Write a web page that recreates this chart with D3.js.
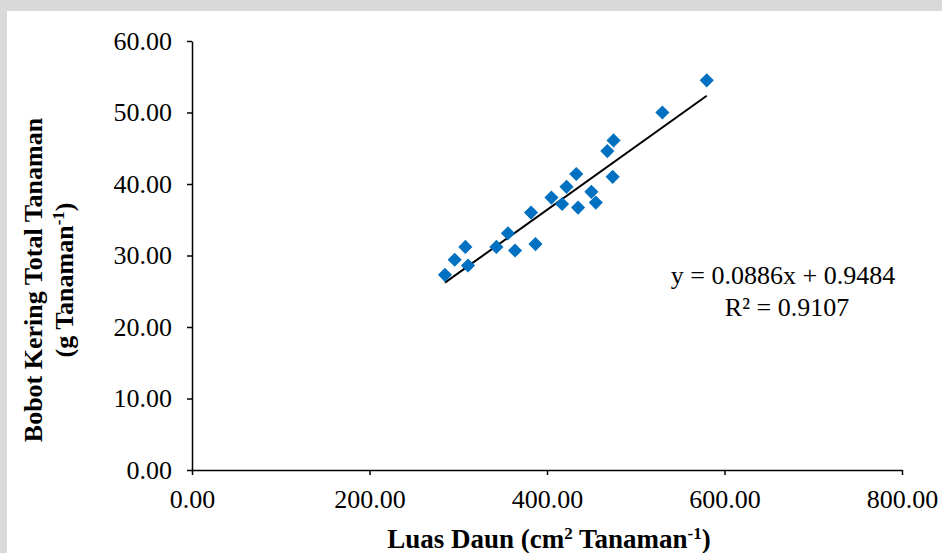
<!DOCTYPE html>
<html>
<head>
<meta charset="utf-8">
<script src="https://cdn.jsdelivr.net/npm/d3@7"></script>
<style>
  body { margin: 0; background: #d9d9d9; }
  svg { display: block; }
  text { font-family: "Liberation Serif", "Times New Roman", serif; }
</style>
</head>
<body>
<div id="chart"></div>
<script>
// leaf area (x) vs total dry weight (y)
var luasDaun = [285, 296, 308, 311, 343, 356, 364, 382, 387, 405, 417, 422,
                433, 435, 450, 455, 468, 475, 474, 530, 580];
var bobotKering = [27.3, 29.4, 31.2, 28.6, 31.2, 33.1, 30.7, 36.0, 31.6, 38.1, 37.2, 39.6,
                   41.4, 36.7, 38.9, 37.4, 44.6, 46.1, 41.0, 50.0, 54.5];
var xTicks = [0, 200, 400, 600, 800];
var yTicks = [0, 10, 20, 30, 40, 50, 60];
var slope = 0.0886, intercept = 0.9484;

var width = 942, height = 553;

var svg = d3.select("#chart").append("svg")
    .attr("width", width)
    .attr("height", height);

// white plot sheet (gray strip at top/left like the scan)
svg.append("rect")
    .attr("x", 7).attr("y", 11)
    .attr("width", width - 7).attr("height", height - 11)
    .attr("fill", "#fff");

var x = d3.scaleLinear().domain([0, 800]).range([192, 902]);
var y = d3.scaleLinear().domain([0, 60]).range([470, 41]);

var xAxis = svg.append("g")
    .attr("transform", "translate(0," + y(0) + ")")
    .call(d3.axisBottom(x).tickValues(xTicks).tickSize(5).tickSizeOuter(0)
      .tickFormat(d3.format(".2f")));

var yAxis = svg.append("g")
    .attr("transform", "translate(" + x(0) + ",0)")
    .call(d3.axisLeft(y).tickValues(yTicks).tickSize(5).tickSizeOuter(0)
      .tickFormat(d3.format(".2f")));

[xAxis, yAxis].forEach(function(g) {
  g.select(".domain").attr("stroke", "#000").attr("stroke-width", 1.5);
  g.selectAll(".tick line").attr("stroke", "#000").attr("stroke-width", 1.5);
  g.selectAll(".tick text")
      .attr("fill", "#000")
      .style("font-size", "26px")
      .style("font-family", "Liberation Serif");
});
xAxis.selectAll(".tick text").attr("y", 20).attr("dy", "0.71em");
yAxis.selectAll(".tick text").attr("x", -20);

// trendline over the data range
var xr = d3.extent(luasDaun);
svg.append("line")
    .attr("x1", x(xr[0])).attr("y1", y(slope * xr[0] + intercept))
    .attr("x2", x(xr[1])).attr("y2", y(slope * xr[1] + intercept))
    .attr("stroke", "#000")
    .attr("stroke-width", 2);

var diamond = d3.symbol().type(d3.symbolSquare).size(100);
svg.selectAll(".pt")
    .data(luasDaun)
    .enter().append("path")
    .attr("class", "pt")
    .attr("d", diamond)
    .attr("transform", function(d, i) {
      return "translate(" + x(d) + "," + y(bobotKering[i]) + ") rotate(45)";
    })
    .attr("fill", "#0070c0");

// regression text
var eq = svg.append("g").style("font-size", "26px").attr("text-anchor", "middle");
eq.append("text").attr("x", 783).attr("y", 284).text("y = 0.0886x + 0.9484");
eq.append("text").attr("x", 787).attr("y", 316).text("R\u00b2 = 0.9107");

// x axis title
var xt = svg.append("text")
    .attr("x", 549).attr("y", 548)
    .attr("text-anchor", "middle")
    .style("font-size", "27px").style("font-weight", "bold");
xt.append("tspan").text("Luas Daun (cm");
xt.append("tspan").attr("dy", -9).style("font-size", "17px").text("2");
xt.append("tspan").attr("dy", 9).text(" Tanaman");
xt.append("tspan").attr("dy", -9).style("font-size", "17px").text("-1");
xt.append("tspan").attr("dy", 9).text(")");

// y axis title, two lines
var yt = svg.append("g")
    .attr("transform", "translate(42,280) rotate(-90)")
    .attr("text-anchor", "middle")
    .style("font-size", "26px").style("font-weight", "bold");
yt.append("text").attr("x", 0).attr("y", 0).text("Bobot Kering Total Tanaman");
var yt2 = yt.append("text").attr("x", 0).attr("y", 31);
yt2.append("tspan").text("(g Tanaman");
yt2.append("tspan").attr("dy", -9).style("font-size", "17px").text("-1");
yt2.append("tspan").attr("dy", 9).text(")");
</script>
</body>
</html>
